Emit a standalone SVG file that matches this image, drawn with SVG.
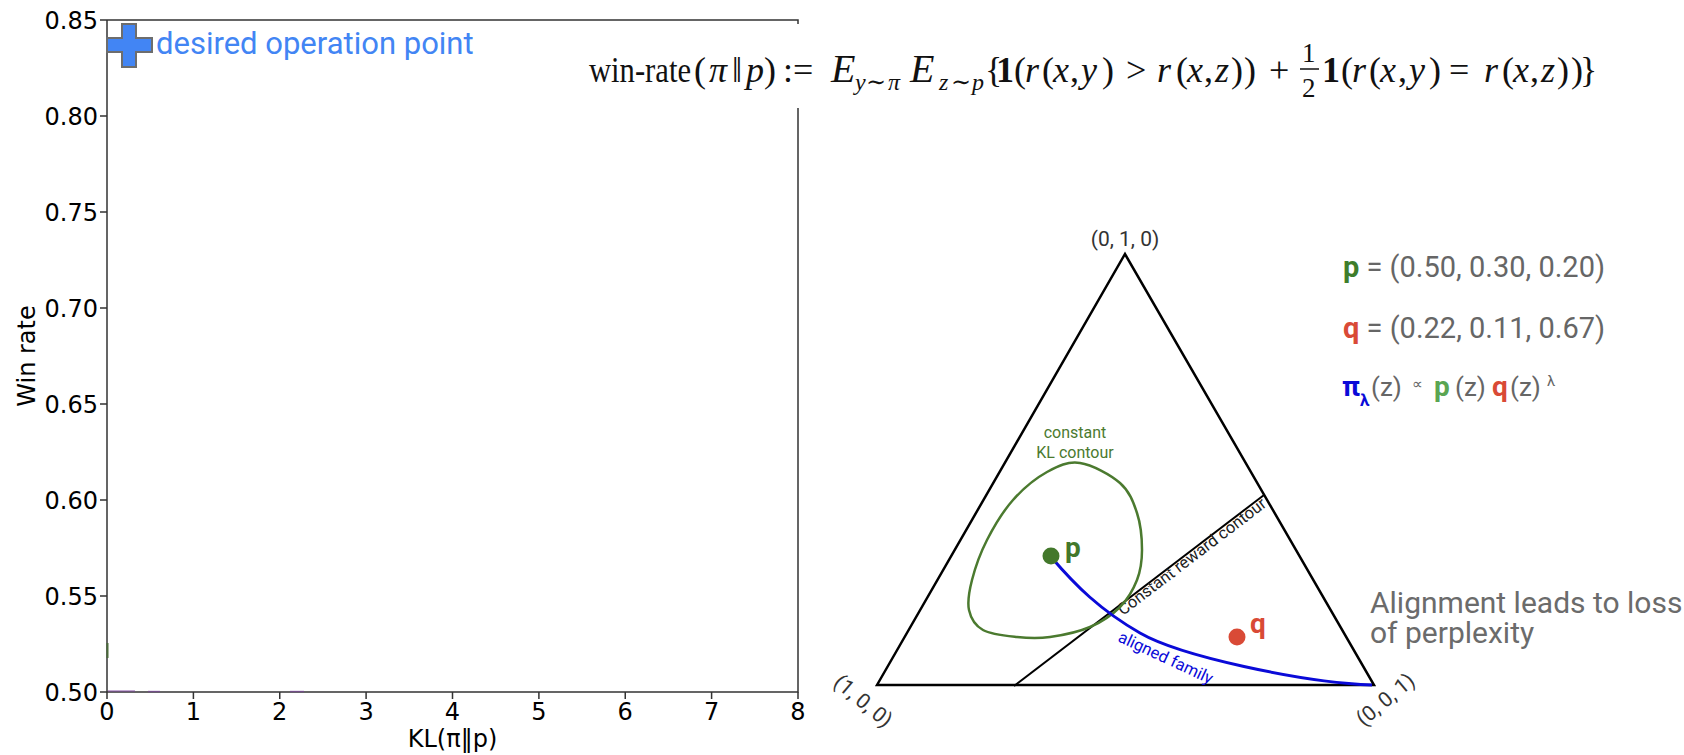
<svg xmlns="http://www.w3.org/2000/svg" width="1684" height="755" viewBox="0 0 1684 755">
<style>
.ax{stroke:#333;stroke-width:1.5;fill:none}
.tk{font-family:'DejaVu Sans',sans-serif;font-size:24px;fill:#000}
.m{font-family:'Liberation Serif','DejaVu Serif',serif;font-size:36px;fill:#111}
.i{font-style:italic}
.b{font-weight:bold}
.s{font-size:24px}
.r{font-family:Roboto,'Noto Sans',sans-serif}
.gray{fill:#666}
.tri{stroke:#000;stroke-width:2.5;fill:none}
</style>
<rect width="1684" height="755" fill="#fff"/>

<g id="plot">
  <path class="ax" d="M107,20 H798 V24 M798,108 V692 H107 V20"/>
  <g stroke="#333" stroke-width="1.5">
    <path d="M100,20H107M100,116H107M100,212H107M100,308H107M100,404H107M100,500H107M100,596H107M100,692H107"/>
    <path d="M107,692V699M193.4,692V699M279.75,692V699M366.1,692V699M452.5,692V699M538.9,692V699M625.25,692V699M711.6,692V699M798,692V699"/>
  </g>
  <g class="tk" text-anchor="end">
    <text x="98" y="29">0.85</text>
    <text x="98" y="125">0.80</text>
    <text x="98" y="221">0.75</text>
    <text x="98" y="317">0.70</text>
    <text x="98" y="413">0.65</text>
    <text x="98" y="509">0.60</text>
    <text x="98" y="605">0.55</text>
    <text x="98" y="701">0.50</text>
  </g>
  <g class="tk" text-anchor="middle">
    <text x="107" y="720">0</text>
    <text x="193.4" y="720">1</text>
    <text x="279.75" y="720">2</text>
    <text x="366.1" y="720">3</text>
    <text x="452.5" y="720">4</text>
    <text x="538.9" y="720">5</text>
    <text x="625.25" y="720">6</text>
    <text x="711.6" y="720">7</text>
    <text x="798" y="720">8</text>
    <text x="452.5" y="747">KL(π‖p)</text>
    <text x="35" y="356" transform="rotate(-90 35 356)">Win rate</text>
  </g>
  <g stroke-width="1.5" fill="none">
    <path d="M107.5,643V658" stroke="#4a6a3a" stroke-width="2"/>
    <path d="M108,691H135M148,691.5H160M290,691.5H304" stroke="#7b3f9e" opacity="0.6"/>
  </g>
</g>

<g id="desired-point">
  <path d="M122,24H136V38H152V52H136V67H122V52H107V38H122Z" fill="#4285f4" stroke="#6d6d6d" stroke-width="2"/>
  <text class="r" x="156" y="54" font-size="31" fill="#4285f4">desired operation point</text>
</g>

<g id="formula" class="m">
  <text x="589" y="82" textLength="102" lengthAdjust="spacingAndGlyphs">win-rate</text>
  <text y="82"><tspan x="694">(</tspan><tspan x="709" class="i">π</tspan><tspan x="732">‖</tspan><tspan x="746" class="i">p</tspan><tspan x="764">)</tspan><tspan x="783">:</tspan><tspan x="793">=</tspan><tspan x="831" class="i" font-size="40">E</tspan></text>
  <text y="90" class="s"><tspan x="855" class="i">y</tspan><tspan x="866">∼</tspan><tspan x="888" class="i">π</tspan></text>
  <text y="82"><tspan x="910" class="i" font-size="40">E</tspan></text>
  <text y="90" class="s"><tspan x="939" class="i">z</tspan><tspan x="951">∼</tspan><tspan x="972" class="i">p</tspan></text>
  <text y="82"><tspan x="985">{</tspan><tspan x="996" class="b">1</tspan><tspan x="1014">(</tspan><tspan x="1025" class="i">r</tspan><tspan x="1042">(</tspan><tspan x="1053" class="i">x</tspan><tspan x="1070">,</tspan><tspan x="1081" class="i">y</tspan><tspan x="1102">)</tspan><tspan x="1126">&gt;</tspan><tspan x="1157" class="i">r</tspan><tspan x="1176">(</tspan><tspan x="1187" class="i">x</tspan><tspan x="1204">,</tspan><tspan x="1215" class="i">z</tspan><tspan x="1231">)</tspan><tspan x="1244">)</tspan><tspan x="1269">+</tspan></text>
  <text x="1302" y="62" font-size="27">1</text>
  <line x1="1300" y1="69" x2="1319" y2="69" stroke="#111" stroke-width="1.5"/>
  <text x="1302" y="97" font-size="27">2</text>
  <text y="82"><tspan x="1322" class="b">1</tspan><tspan x="1341">(</tspan><tspan x="1352" class="i">r</tspan><tspan x="1369">(</tspan><tspan x="1380" class="i">x</tspan><tspan x="1398">,</tspan><tspan x="1409" class="i">y</tspan><tspan x="1429">)</tspan><tspan x="1449">=</tspan><tspan x="1484" class="i">r</tspan><tspan x="1502">(</tspan><tspan x="1513" class="i">x</tspan><tspan x="1530">,</tspan><tspan x="1541" class="i">z</tspan><tspan x="1557">)</tspan><tspan x="1571">)</tspan><tspan x="1580">}</tspan></text>
</g>

<g id="simplex">
  <path class="tri" d="M877,685 L1125,254 L1374,685 Z"/>
  <g class="r" font-size="21" fill="#333" text-anchor="middle">
    <text x="1125" y="246">(0, 1, 0)</text>
    <text x="858.5" y="706.5" transform="rotate(40 858.5 706.5)">(1, 0, 0)</text>
    <text x="1390" y="705" transform="rotate(-40 1390 705)">(0, 0, 1)</text>
  </g>
</g>

<g id="reward-contour">
  <line x1="1014" y1="686" x2="1264" y2="495" stroke="#000" stroke-width="2"/>
  <text class="r" x="1123" y="616" font-size="16.5" fill="#222" transform="rotate(-37.3 1123 616)">Constant reward contour</text>
</g>

<g id="kl-contour">
  <path d="M1080,463 C1092.2,464.8 1110.5,474.7 1120,483 C1129.5,491.3 1133.3,501.8 1137,513 C1140.7,524.2 1142,538.8 1142,550 C1142,561.2 1140.7,570.5 1137,580 C1133.3,589.5 1127.8,599.2 1120,607 C1112.2,614.8 1101.7,622 1090,627 C1078.3,632 1062.2,635.3 1050,637 C1037.8,638.7 1028.2,638.2 1017,637 C1005.8,635.8 991,634.5 983,630 C975,625.5 970.8,618.3 969,610 C967.2,601.7 969,591.7 972,580 C975,568.3 980.2,553.3 987,540 C993.8,526.7 1003,511.3 1013,500 C1023,488.7 1035.8,478.2 1047,472 C1058.2,465.8 1067.8,461.2 1080,463 Z" fill="none" stroke="#4b7a2f" stroke-width="2.5"/>
  <g class="r" font-size="16" fill="#4b7a2f" text-anchor="middle">
    <text x="1075" y="438">constant</text>
    <text x="1075" y="458">KL contour</text>
  </g>
</g>

<g id="aligned-family">
  <path d="M1052,558 C1075,585 1100,610 1140,633 C1180,656 1300,682 1372,685" fill="none" stroke="#0a0ad8" stroke-width="3"/>
  <text class="r" x="1117" y="641" font-size="16.5" fill="#0a0ad8" transform="rotate(25 1117 641)">aligned family</text>
</g>

<g id="point-p">
  <circle cx="1051" cy="556" r="8.5" fill="#43782b"/>
  <text class="r b" x="1065" y="557" font-size="28" fill="#43782b">p</text>
</g>

<g id="point-q">
  <circle cx="1237" cy="637" r="8.5" fill="#d94a36"/>
  <text class="r b" x="1250" y="633" font-size="28" fill="#d94a36">q</text>
</g>

<g id="legend" class="r">
  <text x="1343" y="277" font-size="29"><tspan class="b" fill="#3e7d2b">p</tspan><tspan class="gray"> = (0.50, 0.30, 0.20)</tspan></text>
  <text x="1343" y="338" font-size="29"><tspan class="b" fill="#d94a36">q</tspan><tspan class="gray"> = (0.22, 0.11, 0.67)</tspan></text>
  <text y="396" font-size="28">
    <tspan x="1342" class="b" fill="#0a0ad8">π</tspan>
    <tspan x="1360" y="406" font-size="17" class="b" fill="#0a0ad8">λ</tspan>
    <tspan x="1371" y="396" class="gray" font-size="26">(z)</tspan>
    <tspan x="1412" y="389" font-size="15" class="gray">∝</tspan>
    <tspan x="1434" y="396" class="b" fill="#5aa552">p</tspan>
    <tspan x="1455" class="gray" font-size="26">(z)</tspan>
    <tspan x="1492" class="b" fill="#d94a36">q</tspan>
    <tspan x="1510" class="gray" font-size="26">(z)</tspan>
    <tspan x="1547" y="386" font-size="15" class="gray">λ</tspan>
  </text>
</g>

<g id="note" class="r" font-size="30" fill="#6b6b6b">
  <text x="1370" y="613">Alignment leads to loss</text>
  <text x="1370" y="643">of perplexity</text>
</g>
</svg>
